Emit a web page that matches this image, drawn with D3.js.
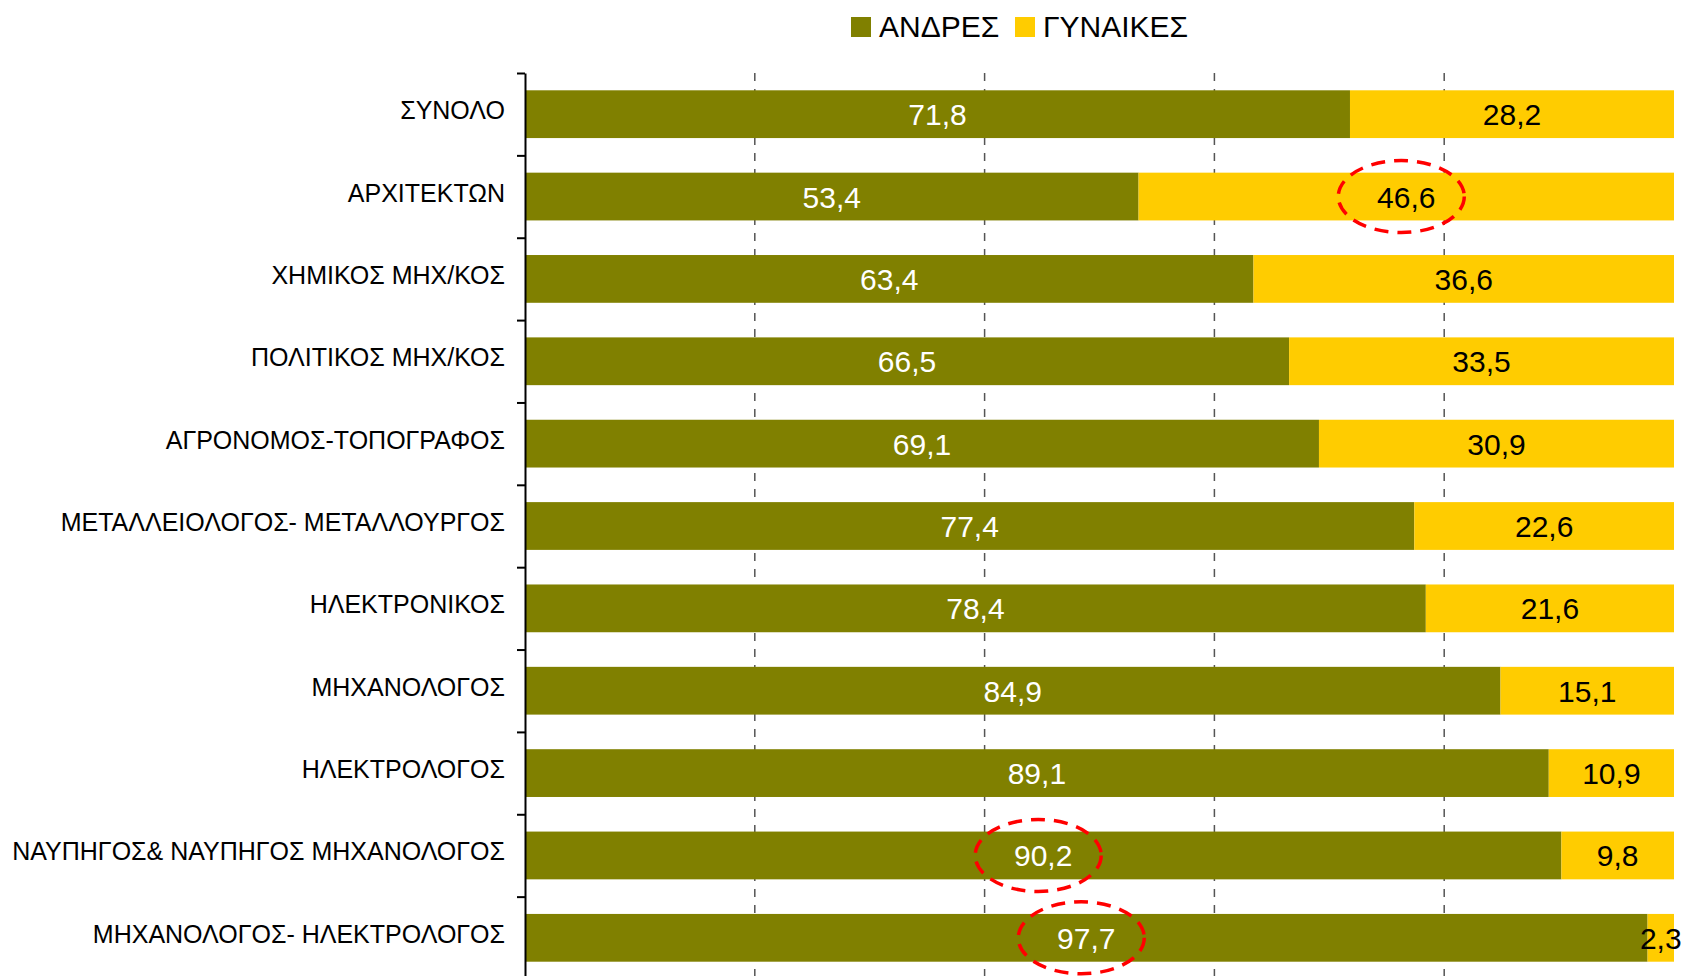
<!DOCTYPE html>
<html lang="el">
<head>
<meta charset="UTF-8">
<title>ΑΝΔΡΕΣ - ΓΥΝΑΙΚΕΣ</title>
<script src="https://d3js.org/d3.v7.min.js"></script>
<style>
    body { margin: 0; background: #fff; }
    svg { display: block; font-family: "Liberation Sans", Arial, sans-serif; }
    .cat { font-size: 25px; fill: #000; }
    .val { font-size: 30px; }
    .legend text { font-size: 30px; fill: #000; }
    .grid line { stroke: #555; stroke-width: 1.5; stroke-dasharray: 8 8; }
</style>
</head>
<body>
<svg id="chart"></svg>
<script>
    const categories = [
        "ΣΥΝΟΛΟ",
        "ΑΡΧΙΤΕΚΤΩΝ",
        "ΧΗΜΙΚΟΣ ΜΗΧ/ΚΟΣ",
        "ΠΟΛΙΤΙΚΟΣ ΜΗΧ/ΚΟΣ",
        "ΑΓΡΟΝΟΜΟΣ-ΤΟΠΟΓΡΑΦΟΣ",
        "ΜΕΤΑΛΛΕΙΟΛΟΓΟΣ- ΜΕΤΑΛΛΟΥΡΓΟΣ",
        "ΗΛΕΚΤΡΟΝΙΚΟΣ",
        "ΜΗΧΑΝΟΛΟΓΟΣ",
        "ΗΛΕΚΤΡΟΛΟΓΟΣ",
        "ΝΑΥΠΗΓΟΣ& ΝΑΥΠΗΓΟΣ ΜΗΧΑΝΟΛΟΓΟΣ",
        "ΜΗΧΑΝΟΛΟΓΟΣ- ΗΛΕΚΤΡΟΛΟΓΟΣ"
    ];
    const men = [71.8, 53.4, 63.4, 66.5, 69.1, 77.4, 78.4, 84.9, 89.1, 90.2, 97.7];
    const women = [28.2, 46.6, 36.6, 33.5, 30.9, 22.6, 21.6, 15.1, 10.9, 9.8, 2.3];
    const seriesNames = ["ΑΝΔΡΕΣ", "ΓΥΝΑΙΚΕΣ"];
    const seriesColors = ["#808000", "#FFCC00"];
    const labelColors = ["#fff", "#000"];
    const gridValues = [20, 40, 60, 80];
    // circled labels: [category index, series index]
    const highlights = [[1, 1], [9, 0], [10, 0]];

    const width = 1684, height = 976;
    const margin = { left: 525, right: 1674, top: 73, bottom: 979 };

    const svg = d3.select("#chart").attr("width", width).attr("height", height);

    const x = d3.scaleLinear().domain([0, 100]).range([margin.left, margin.right]);
    const y = d3.scaleBand().domain(categories).range([margin.top, margin.bottom])
        .paddingInner(0.42).paddingOuter(0.21);
    const yIdx = d3.scaleLinear().domain([0, categories.length]).range([margin.top, margin.bottom]);

    // stacked data
    const rows = categories.map((c, i) => ({ cat: c, values: [men[i], women[i]] }));
    const stack = d3.stack().keys([0, 1]).value((d, k) => d.values[k]);
    const layers = stack(rows);

    // grid lines
    svg.append("g").attr("class", "grid")
        .selectAll("line").data(gridValues).enter().append("line")
        .attr("x1", d => x(d)).attr("x2", d => x(d))
        .attr("y1", margin.top).attr("y2", height);

    // bars
    const layerG = svg.selectAll("g.layer").data(layers).enter().append("g")
        .attr("class", "layer")
        .attr("fill", (d, i) => seriesColors[i]);

    layerG.selectAll("rect").data(d => d).enter().append("rect")
        .attr("x", d => x(d[0]))
        .attr("width", d => x(d[1]) - x(d[0]))
        .attr("y", d => y(d.data.cat))
        .attr("height", y.bandwidth());

    // value labels
    layers.forEach((layer, k) => {
        svg.append("g").selectAll("text").data(layer).enter().append("text")
            .attr("class", "val")
            .attr("text-anchor", "middle")
            .attr("fill", labelColors[k])
            .attr("x", d => x((d[0] + d[1]) / 2))
            .attr("y", d => y(d.data.cat) + y.bandwidth() / 2 + 11)
            .text(d => d3.format(".1f")(d.data.values[k]).replace(".", ","));
    });

    // y axis
    svg.append("g")
        .attr("transform", `translate(${margin.left},0)`)
        .call(d3.axisLeft(yIdx).tickValues(d3.range(categories.length + 1))
            .tickFormat("").tickSize(8).tickSizeOuter(0))
        .call(g => g.selectAll("path, line").attr("stroke", "#000").attr("stroke-width", 2));

    // category labels
    svg.append("g").selectAll("text").data(categories).enter().append("text")
        .attr("class", "cat")
        .attr("text-anchor", "end")
        .attr("x", margin.left - 20)
        .attr("y", d => y(d) + y.bandwidth() / 2 + 5)
        .text(d => d);

    // red dashed ellipses
    svg.append("g").selectAll("ellipse").data(highlights).enter().append("ellipse")
        .attr("cx", ([i, k]) => x((layers[k][i][0] + layers[k][i][1]) / 2) - 5)
        .attr("cy", ([i]) => y(categories[i]) + y.bandwidth() / 2)
        .attr("rx", 63).attr("ry", 36)
        .attr("fill", "none")
        .attr("stroke", "#FF0000")
        .attr("stroke-width", 3.5)
        .attr("stroke-dasharray", "14 9");

    // legend
    const legend = svg.append("g").attr("class", "legend").attr("transform", "translate(851,17)");
    const items = legend.selectAll("g").data(seriesNames).enter().append("g")
        .attr("transform", (d, i) => `translate(${i * 164},0)`);
    items.append("rect").attr("width", 20).attr("height", 20)
        .attr("fill", (d, i) => seriesColors[i]);
    items.append("text").attr("x", 28).attr("y", 20).text(d => d);
</script>
</body>
</html>
